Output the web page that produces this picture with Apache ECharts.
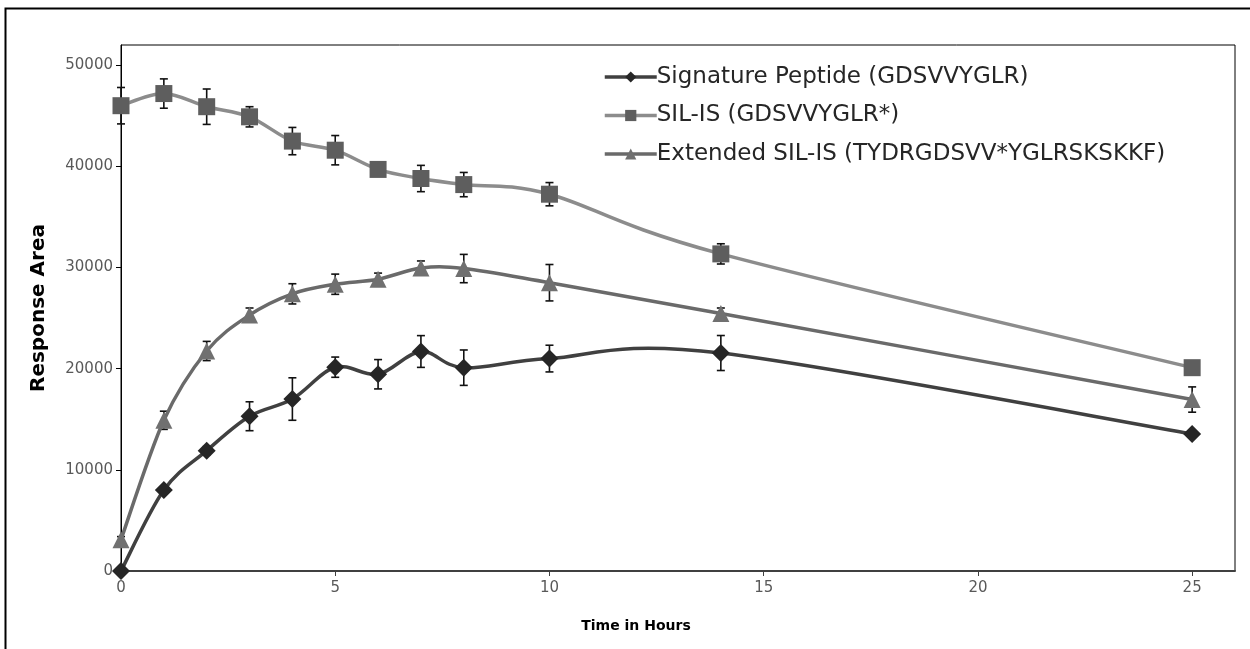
<!DOCTYPE html>
<html>
<head>
<meta charset="utf-8">
<script src="https://cdn.jsdelivr.net/npm/echarts@6/dist/echarts.min.js"></script>
<style>
html,body{margin:0;padding:0;background:#fff;}
#chart{width:1250px;height:649px;}
</style>
</head>
<body>
<div id="chart"></div>
<script>
// ---- data ----
var times = [0, 1, 2, 3, 4, 5, 6, 7, 8, 10, 14, 25];
var seriesNames = ['Signature Peptide (GDSVVYGLR)', 'SIL-IS (GDSVVYGLR*)', 'Extended SIL-IS (TYDRGDSVV*YGLRSKSKKF)'];
var signature = [0, 8000, 11900, 15300, 17000, 20150, 19450, 21700, 20100, 21000, 21550, 13550];
var signatureErr = [0, 300, 400, 1430, 2100, 1000, 1450, 1570, 1750, 1320, 1730, 300];
var silis = [46000, 47200, 45900, 44900, 42500, 41600, 39700, 38800, 38200, 37250, 31350, 20100];
var silisErr = [1800, 1450, 1750, 1000, 1350, 1450, 300, 1300, 1200, 1150, 1000, 400];
var extended = [3100, 14900, 21750, 25300, 27400, 28350, 28850, 29950, 29900, 28500, 25450, 16950];
var extendedErr = [300, 900, 950, 700, 1000, 1000, 600, 700, 1400, 1800, 550, 1250];
var xTicks = [0, 5, 10, 15, 20, 25];
var yTicks = [0, 10000, 20000, 30000, 40000, 50000];

var lineColors = ['#404040', '#8c8c8c', '#6a6a6a'];
var markerColors = ['#262626', '#5e5e5e', '#707070'];

function pairs(vals) { return times.map(function (t, i) { return [t, vals[i]]; }); }
function errData(vals, errs) { return times.map(function (t, i) { return [t, vals[i], errs[i]]; }); }

function errRender(params, api) {
  var t = api.value(0), v = api.value(1), e = api.value(2);
  if (!e) return null;
  var top = api.coord([t, v + e]);
  var bot = api.coord([t, v - e]);
  var w = 4;
  var st = { stroke: '#111', lineWidth: 1.6 };
  return {
    type: 'group',
    children: [
      { type: 'line', shape: { x1: top[0], y1: top[1], x2: bot[0], y2: bot[1] }, style: st },
      { type: 'line', shape: { x1: top[0] - w, y1: top[1], x2: top[0] + w, y2: top[1] }, style: st },
      { type: 'line', shape: { x1: bot[0] - w, y1: bot[1], x2: bot[0] + w, y2: bot[1] }, style: st }
    ]
  };
}

// Spreadsheet-style smoothed curve (Catmull-Rom -> cubic Bezier), positions from the axes
function curveRenderer(vals, color) {
  return function (params, api) {
    if (params.dataIndex !== 0) return null;
    var p = times.map(function (t, i) { return api.coord([t, vals[i]]); });
    var n = p.length, k = 1 / 6, kids = [];
    for (var i = 0; i < n - 1; i++) {
      var p0 = p[Math.max(i - 1, 0)], p1 = p[i], p2 = p[i + 1], p3 = p[Math.min(i + 2, n - 1)];
      kids.push({
        type: 'bezierCurve',
        shape: {
          x1: p1[0], y1: p1[1], x2: p2[0], y2: p2[1],
          cpx1: p1[0] + (p2[0] - p0[0]) * k, cpy1: p1[1] + (p2[1] - p0[1]) * k,
          cpx2: p2[0] - (p3[0] - p1[0]) * k, cpy2: p2[1] - (p3[1] - p1[1]) * k
        },
        style: { stroke: color, lineWidth: 3.5, fill: null, lineCap: 'round' }
      });
    }
    return { type: 'group', children: kids };
  };
}

var chart = echarts.init(document.getElementById('chart'), null, { renderer: 'canvas' });
var labelFont = 'DejaVu Sans';
var allVals = [signature, silis, extended];
var symbols = ['diamond', 'rect', 'triangle'];
var symbolSizes = [18, 17, 17];

var series = [
  { type: 'custom', name: 'errSig', renderItem: errRender, data: errData(signature, signatureErr), z: 1, silent: true, clip: false },
  { type: 'custom', name: 'errSil', renderItem: errRender, data: errData(silis, silisErr), z: 1, silent: true, clip: false },
  { type: 'custom', name: 'errExt', renderItem: errRender, data: errData(extended, extendedErr), z: 1, silent: true, clip: false }
];
allVals.forEach(function (vals, s) {
  series.push({ type: 'custom', name: 'curve' + s, renderItem: curveRenderer(vals, lineColors[s]), data: pairs(vals), z: 2, silent: true, clip: false });
});
allVals.forEach(function (vals, s) {
  series.push({
    name: seriesNames[s], type: 'line', data: pairs(vals), z: 3,
    symbol: symbols[s], symbolSize: symbolSizes[s],
    lineStyle: { color: lineColors[s], width: 0, opacity: 0 },
    itemStyle: { color: markerColors[s], borderWidth: 0 }
  });
});

var option = {
  backgroundColor: '#fff',
  animation: false,
  graphic: [{
    type: 'rect', left: 3, top: 6, silent: true,
    shape: { width: 1300, height: 700 },
    style: { fill: 'none', stroke: '#000', lineWidth: 2 }
  }],
  grid: { left: 121, top: 45, right: 15, bottom: 78, show: true, borderColor: '#000', borderWidth: 1, backgroundColor: 'transparent' },
  legend: {
    orient: 'vertical', left: 598, top: 60,
    itemWidth: 52, itemHeight: 14, itemGap: 14.5,
    data: seriesNames.map(function (n, s) {
      return { name: n, lineStyle: { color: lineColors[s], width: 3.5, opacity: 1 } };
    }),
    textStyle: { fontFamily: labelFont, fontSize: 23, lineHeight: 24, color: '#262626', padding: [0, 0, 0, -5] }
  },
  xAxis: {
    type: 'value', min: 0, max: 26, interval: 5,
    name: 'Time in Hours', nameLocation: 'middle', nameGap: 48,
    nameTextStyle: { fontFamily: 'DejaVu Sans', fontWeight: 'bold', fontSize: 14, color: '#000', padding: [0, 84, 0, 0] },
    axisLine: { show: true, onZero: false, lineStyle: { color: '#404040', width: 2 } },
    axisTick: { show: true, inside: false, length: 5, customValues: xTicks, lineStyle: { color: '#404040' } },
    axisLabel: { customValues: xTicks, margin: 10, fontFamily: labelFont, fontSize: 15, color: '#595959' },
    splitLine: { show: false }
  },
  yAxis: {
    type: 'value', min: 0, max: 52000, interval: 10000,
    name: 'Response Area', nameLocation: 'middle', nameGap: 72, nameRotate: 90,
    nameTextStyle: { fontFamily: 'DejaVu Sans', fontWeight: 'bold', fontSize: 20, color: '#000' },
    axisLine: { show: true, lineStyle: { color: '#000', width: 1 } },
    axisTick: { show: true, inside: false, length: 5, customValues: yTicks, lineStyle: { color: '#000' } },
    axisLabel: { customValues: yTicks, margin: 8, fontFamily: labelFont, fontSize: 15, color: '#595959',
      formatter: function (v) { return String(v); } },
    splitLine: { show: false }
  },
  series: series
};
chart.setOption(option);
</script>
</body>
</html>
